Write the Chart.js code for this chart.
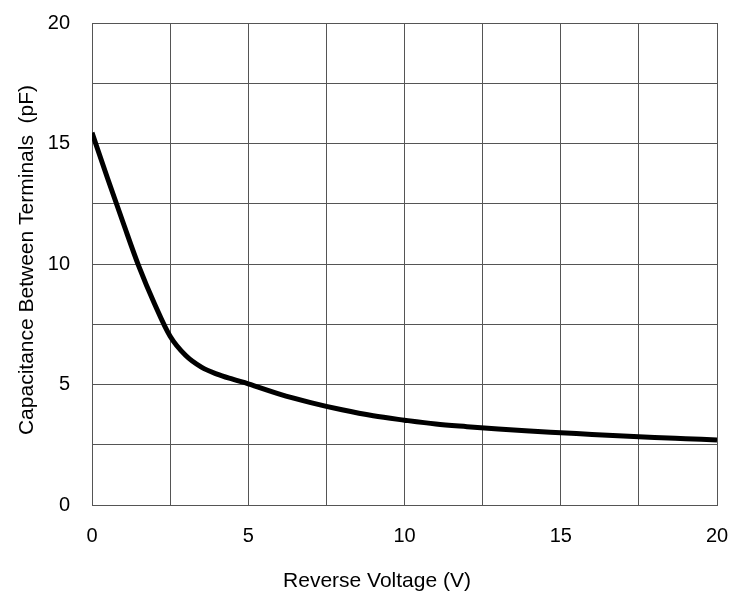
<!DOCTYPE html>
<html>
<head>
<meta charset="utf-8">
<script src="https://cdn.jsdelivr.net/npm/chart.js@4.4.0/dist/chart.umd.min.js"></script>
<style>
  html, body { margin: 0; padding: 0; background: #fff; }
  #c { display: block; }
</style>
</head>
<body>
<canvas id="c" width="738" height="598"></canvas>
<script>
// Reverse voltage (V) and capacitance between terminals (pF)
const voltage = [0, 0.5, 1, 1.5, 2, 2.5, 3, 3.5, 4, 4.5, 5, 6, 7, 8, 9, 10, 11, 12, 13, 14, 15, 16, 17, 18, 19, 20];
const capacitance = [15.45, 13.55, 11.7, 9.9, 8.35, 7.0, 6.2, 5.72, 5.43, 5.22, 5.03, 4.6, 4.25, 3.95, 3.7, 3.52, 3.36, 3.25, 3.15, 3.07, 3.0, 2.93, 2.86, 2.8, 2.75, 2.7];
const xTitle = 'Reverse Voltage (V)';
const yTitle = 'Capacitance Between Terminals  (pF)';

(function(){
    const FONT = 'Liberation Sans, Arial, sans-serif';
    const GRID = '#555';

    // only label every other grid line (0, 5, 10 ...)
    function tickLabel(v){ return (v % 5 === 0) ? String(v) : ''; }

    // axis titles drawn by hand: the original puts them a bit off the plot centre
    const axisTitles = {
        id: 'axisTitles',
        afterDraw(chart){
            const ctx = chart.ctx;
            ctx.save();
            ctx.fillStyle = '#000';
            ctx.font = '21px ' + FONT;
            ctx.textAlign = 'center';
            ctx.textBaseline = 'middle';
            ctx.fillText(xTitle, 377, 581);
            ctx.translate(27, 260);
            ctx.rotate(-Math.PI / 2);
            ctx.fillText(yTitle, 0, 0);
            ctx.restore();
        }
    };

    const points = voltage.map((v, i) => ({ x: v, y: capacitance[i] }));

    new Chart(document.getElementById('c'), {
        type: 'line',
        data: {
            datasets: [{
                data: points,
                borderColor: '#000',
                borderWidth: 5,
                pointRadius: 0,
                cubicInterpolationMode: 'monotone',
                fill: false
            }]
        },
        options: {
            responsive: false,
            animation: false,
            devicePixelRatio: 1,
            layout: { padding: { left: 11, right: 21, top: 23, bottom: 5 } },
            plugins: { legend: { display: false }, tooltip: { enabled: false } },
            scales: {
                x: {
                    type: 'linear', min: 0, max: 20,
                    ticks: { stepSize: 2.5, autoSkip: false, maxRotation: 0, callback: tickLabel,
                             color: '#000', padding: 19, font: { family: FONT, size: 20 } },
                    grid: { color: GRID, lineWidth: 1, drawTicks: false },
                    border: { color: GRID },
                    afterFit: s => {
                        s.height = 598 - 505 - 5;
                        s.paddingLeft = 0; s.paddingRight = 0;
                    }
                },
                y: {
                    type: 'linear', min: 0, max: 20,
                    ticks: { stepSize: 2.5, autoSkip: false, callback: tickLabel,
                             color: '#000', padding: 22, font: { family: FONT, size: 20 } },
                    grid: { color: GRID, lineWidth: 1, drawTicks: false },
                    border: { color: GRID },
                    afterFit: s => {
                        s.width = 92 - 11;
                        s.paddingTop = 0; s.paddingBottom = 0;
                    }
                }
            }
        },
        plugins: [axisTitles]
    });
})();
</script>
</body>
</html>
